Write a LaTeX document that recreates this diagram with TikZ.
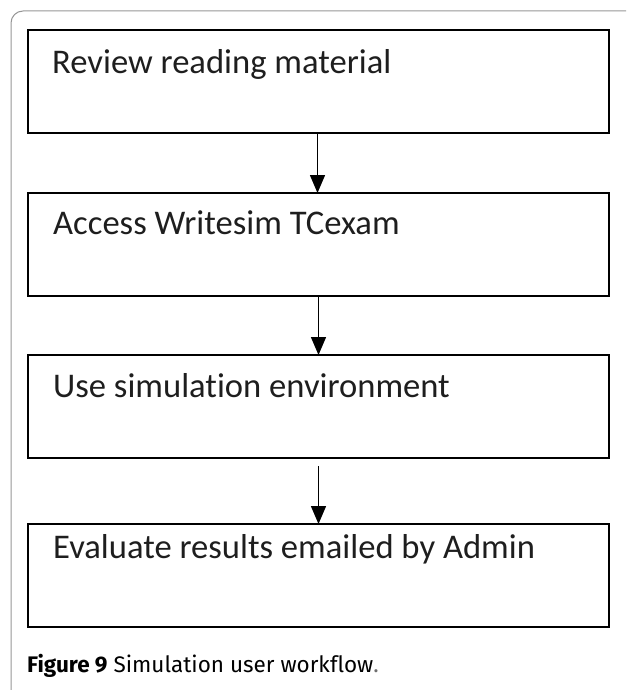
\documentclass[tikz,border=0pt]{standalone}
\usepackage{fontspec}
\setmainfont[Ligatures=NoCommon]{Carlito}
\newfontfamily\captionfont[Ligatures=NoCommon]{Fira Sans}
\usetikzlibrary{arrows.meta}
\definecolor{inktext}{RGB}{30,30,30}
\definecolor{framegray}{RGB}{150,150,150}
\definecolor{dotgray}{RGB}{110,110,110}
\begin{document}
\begin{tikzpicture}[x=1pt,y=-1pt,
  stepbox/.style={draw=black,line width=1.6pt,minimum width=581pt,minimum height=103pt,
    inner sep=0pt,outer sep=0pt,anchor=north west},
  steptext/.style={anchor=base west,inner sep=0pt,text=inktext,font=\fontsize{34.6}{34}\selectfont},
  flow/.style={line width=1.4pt,-{Triangle[width=15pt,length=18pt]}}]
  \useasboundingbox (0,0) rectangle (626,690);
  % page frame with rounded top-left corner
  \draw[framegray,line width=1pt] (11,690) -- (11,23) arc[start angle=180,end angle=270,radius=12] -- (626,11);
  % workflow steps
  \node[stepbox] (b1) at (28,30) {};
  \node[stepbox] (b2) at (28,193) {};
  \node[stepbox] (b3) at (28,355) {};
  \node[stepbox] (b4) at (28,524) {};
  \node[steptext] (t1) at (52,74) {Review reading material};
  \node[steptext] (t2) at (53,234) {Access Writesim TCexam};
  \node[steptext] (t3) at (53,397) {Use simulation environment};
  \node[steptext] (t4) at (53,558) {Evaluate results emailed by Admin};
  % connectors
  \coordinate (a3) at ([yshift=-8pt]b3.south);
  \draw[flow] ([xshift=-1pt]b1.south) -- ([xshift=-1pt]b2.north);
  \draw[flow] (b2.south) -- (b3.north);
  \draw[flow] (a3) -- (b4.north);
  % caption
  \node[anchor=base west,inner sep=0pt,font=\captionfont\fontsize{22.5}{22}\selectfont] (cap) at (27,672)
    {\textbf{Figure 9} Simulation user workflow\textcolor{dotgray}{.}};
\end{tikzpicture}
\end{document}
